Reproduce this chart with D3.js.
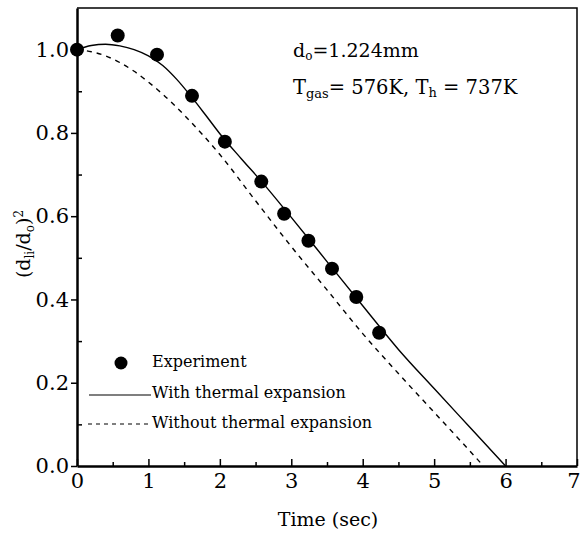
<!DOCTYPE html>
<html>
<head>
<meta charset="utf-8">
<script src="https://cdn.jsdelivr.net/npm/d3@7"></script>
<style>
  html, body { margin: 0; padding: 0; background: #fff; }
  svg text { font-family: "DejaVu Serif", serif; fill: #000; }
</style>
</head>
<body>
<svg id="chart" width="580" height="533"></svg>
<script>
// ---- data ----
const expTime  = [0, 0.57, 1.12, 1.61, 2.07, 2.58, 2.90, 3.24, 3.57, 3.91, 4.23];
const expValue = [1.0, 1.034, 0.988, 0.889, 0.779, 0.683, 0.606, 0.541, 0.474, 0.406, 0.320];

const withTime  = [0, 0.2, 0.4, 0.6, 0.8, 1.0, 1.2, 1.4, 1.6, 1.8, 2.0, 2.3, 2.6, 3.0, 3.5, 4.0, 4.5, 5.0, 5.5, 6.0];
const withValue = [1.0, 1.010, 1.013, 1.009, 1.000, 0.985, 0.962, 0.928, 0.887, 0.843, 0.798, 0.738, 0.680, 0.597, 0.491, 0.385, 0.280, 0.186, 0.093, 0.0];

const withoutTime  = [0, 0.2, 0.4, 0.6, 0.8, 1.0, 1.2, 1.5, 2.0, 2.5, 3.0, 3.5, 4.0, 4.5, 5.0, 5.5, 5.69];
const withoutValue = [1.0, 0.995, 0.985, 0.969, 0.948, 0.922, 0.893, 0.843, 0.748, 0.637, 0.527, 0.423, 0.318, 0.222, 0.129, 0.036, 0.0];

const xTicks = [0, 1, 2, 3, 4, 5, 6, 7];
const xMinor = [0.5, 1.5, 2.5, 3.5, 4.5, 5.5, 6.5];
const yTicks = [0.0, 0.2, 0.4, 0.6, 0.8, 1.0];
const yMinor = [0.1, 0.3, 0.5, 0.7, 0.9];

const legendLabels = ["Experiment", "With thermal expansion", "Without thermal expansion"];

// ---- layout ----
const L = 77, R = 577, T = 8, B = 466;
const svg = d3.select("#chart");
const x = d3.scaleLinear().domain([0, 7]).range([L, R]);
const y = d3.scaleLinear().domain([0, 1.1]).range([B, T]);

// frame (top / right)
svg.append("path")
  .attr("d", `M${L},${T}H${R}V${B}`)
  .attr("fill", "none").attr("stroke", "#000").attr("stroke-width", 1.5);

// x axis (ticks inward)
const gx = svg.append("g").attr("transform", `translate(0,${B})`)
  .call(d3.axisBottom(x).tickValues(xTicks).tickFormat(d3.format("d")).tickSize(-7).tickPadding(7).tickSizeOuter(0));
gx.append("g").call(d3.axisBottom(x).tickValues(xMinor).tickFormat("").tickSize(-4).tickSizeOuter(0))
  .select(".domain").remove();
gx.selectAll("text").style("font-size", "21px").style("font-family", "DejaVu Serif");
// last label sits at the right edge: keep it inside the picture
gx.selectAll(".tick text").filter(d => d === 7).attr("text-anchor", "end").attr("x", 3);

// y axis (major outward, minor inward)
const gy = svg.append("g").attr("transform", `translate(${L},0)`)
  .call(d3.axisLeft(y).tickValues(yTicks).tickFormat(d3.format(".1f")).tickSize(6).tickPadding(2).tickSizeOuter(0));
gy.append("g").call(d3.axisRight(y).tickValues(yMinor).tickFormat("").tickSize(5).tickSizeOuter(0))
  .select(".domain").remove();
gy.selectAll("text").style("font-size", "21px").style("font-family", "DejaVu Serif");

svg.selectAll(".domain").attr("stroke-width", 2.5);
svg.selectAll(".tick line").attr("stroke-width", 1.5);

// curves
const line = d3.line().x(d => x(d[0])).y(d => y(d[1])).curve(d3.curveMonotoneX);
svg.append("path")
  .datum(withTime.map((t, i) => [t, withValue[i]]))
  .attr("d", line).attr("fill", "none").attr("stroke", "#000").attr("stroke-width", 1.4);
svg.append("path")
  .datum(withoutTime.map((t, i) => [t, withoutValue[i]]))
  .attr("d", line).attr("fill", "none").attr("stroke", "#000").attr("stroke-width", 1.4)
  .attr("stroke-dasharray", "5,5");

// experiment points
svg.append("g").selectAll("circle")
  .data(expTime.map((t, i) => [t, expValue[i]]))
  .join("circle")
  .attr("cx", d => x(d[0])).attr("cy", d => y(d[1])).attr("r", 7).attr("fill", "#000");

// legend
const lg = svg.append("g").style("font-size", "16px");
lg.append("circle").attr("cx", 121).attr("cy", 363).attr("r", 6.5).attr("fill", "#000");
lg.append("text").attr("x", 152).attr("y", 367).text(legendLabels[0]);
lg.append("line").attr("x1", 89).attr("x2", 151).attr("y1", 395).attr("y2", 395)
  .attr("stroke", "#000").attr("stroke-width", 1.2);
lg.append("text").attr("x", 152).attr("y", 398).text(legendLabels[1]);
lg.append("line").attr("x1", 88).attr("x2", 151).attr("y1", 424).attr("y2", 424)
  .attr("stroke", "#000").attr("stroke-width", 1.2).attr("stroke-dasharray", "4,4");
lg.append("text").attr("x", 152).attr("y", 428).text(legendLabels[2]);

// annotations
const a1 = svg.append("text").attr("x", 293).attr("y", 57).style("font-size", "19px");
a1.append("tspan").text("d");
a1.append("tspan").attr("dy", 3).style("font-size", "12px").text("o");
a1.append("tspan").attr("dy", -3).text("=1.224mm");

const a2 = svg.append("text").attr("x", 293).attr("y", 94).style("font-size", "19.5px");
a2.append("tspan").text("T");
a2.append("tspan").attr("dy", 4).style("font-size", "13px").text("gas");
a2.append("tspan").attr("dy", -4).text("= 576K, T");
a2.append("tspan").attr("dy", 3).style("font-size", "13px").text("h");
a2.append("tspan").attr("dy", -3).text(" = 737K");

// axis titles
svg.append("text").attr("x", 328).attr("y", 526).attr("text-anchor", "middle")
  .style("font-size", "19px").text("Time (sec)");

const yt = svg.append("text").attr("transform", "translate(30,244) rotate(-90)")
  .attr("text-anchor", "middle").style("font-size", "19px");
yt.append("tspan").text("(d");
yt.append("tspan").attr("dy", 4).style("font-size", "12px").text("li");
yt.append("tspan").attr("dy", -4).text("/d");
yt.append("tspan").attr("dy", 4).style("font-size", "12px").text("o");
yt.append("tspan").attr("dy", -4).text(")");
yt.append("tspan").attr("dy", -7).style("font-size", "12px").text("2");
</script>
</body>
</html>
